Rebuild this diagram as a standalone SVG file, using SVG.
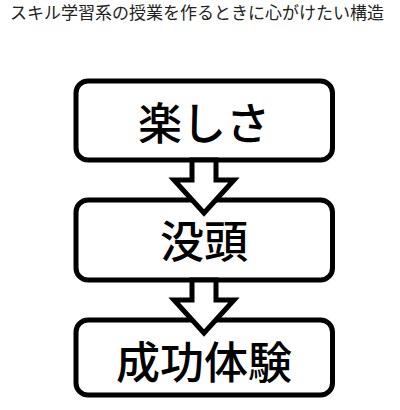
<svg xmlns="http://www.w3.org/2000/svg" width="400" height="410" viewBox="0 0 400 410">
<style>
.box{fill:#fff;stroke:#000;stroke-width:5}
.arrow{fill:#fff;stroke:#000;stroke-width:5;stroke-linejoin:miter}
.label{font-family:"Noto Sans CJK JP","Noto Sans CJK SC",sans-serif;font-size:44px;fill:#000;text-anchor:middle;font-weight:500}
.title{font-family:"Noto Sans CJK JP","Noto Sans CJK SC",sans-serif;font-size:17px;fill:#222}
</style>
<rect width="400" height="410" fill="#fff"/>
<text class="title" x="10" y="19">スキル学習系の授業を作るときに心がけたい構造</text>
<g id="node-tanoshisa">
<rect class="box" x="76" y="81" width="256.5" height="79" rx="12"/>
<text class="label" x="204" y="140">楽しさ</text>
</g>
<g id="node-botto">
<rect class="box" x="76" y="200" width="256.5" height="80" rx="12"/>
<text class="label" x="204" y="257.5">没頭</text>
</g>
<g id="node-seikotaiken">
<rect class="box" x="76" y="320" width="256.5" height="75" rx="12"/>
<text class="label" x="204" y="378.5">成功体験</text>
</g>
<g id="connectors">
<polygon class="arrow" points="192,160 216,160 216,180 234,180 204,213 174,180 192,180"/>
<polygon class="arrow" points="192,280 216,280 216,300 234,300 204,333 174,300 192,300"/>
</g>
</svg>
